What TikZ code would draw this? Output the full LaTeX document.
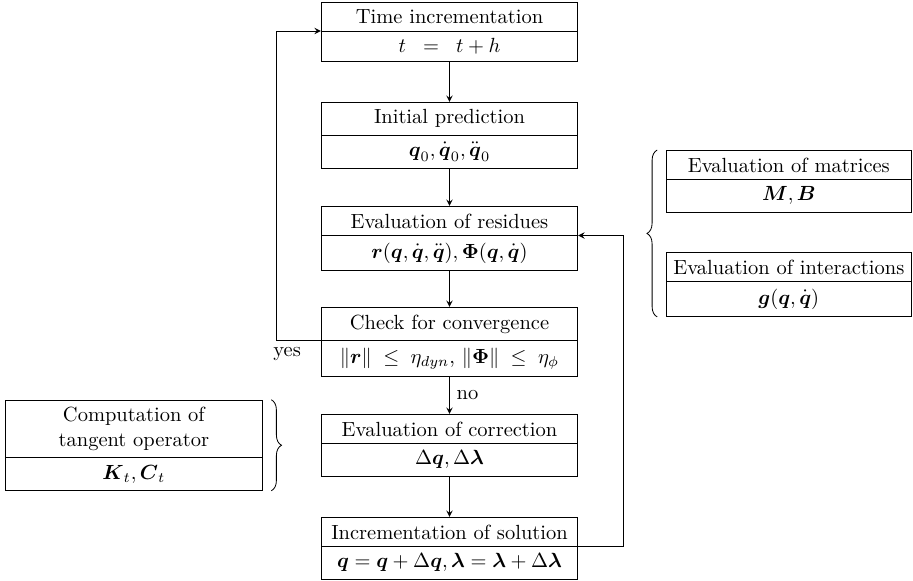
\documentclass[tikz,border=0pt]{standalone}
\usepackage{amsmath}
\usetikzlibrary{positioning,shapes.multipart,decorations.pathreplacing}
\newcommand{\bv}[1]{\boldsymbol{#1}}
\tikzset{
  blk/.style={rectangle split, rectangle split parts=2, draw, align=center, minimum width=4.4cm, anchor=north},
  sideblk/.style={blk, minimum width=4.2cm},
  brc/.style={decorate, decoration={brace, amplitude=5pt}}
}
\begin{document}
\begin{tikzpicture}
            \useasboundingbox (0,0) rectangle (15.66,-9.965);
            % Main loop
            \node[blk] (inc) at (7.71,-0.034) {Time incrementation \nodepart{two} $t\;\;=\;\;t + h$};
            \node[blk] (pred) at (7.71,-1.749) {Initial prediction \nodepart{two} $\bv{q}_0, \dot{\bv{q}}_0, \ddot{\bv{q}}_0$};
            \node[blk] (res) at (7.71,-3.533) {Evaluation of residues \nodepart{two} $\bv{r}(\bv{q}, \dot{\bv{q}}, \ddot{\bv{q}}), \bv{\Phi}(\bv{q}, \dot{\bv{q}})$};
            \node[blk] (conv) at (7.71,-5.265) {Check for convergence \nodepart{two} $\|\bv{r}\| \;\leq\; \eta_{dyn}$, $\|\bv{\Phi}\| \;\leq\; \eta_{\phi}$};
            \node[blk] (corr) at (7.71,-7.10) {Evaluation of correction \nodepart{two} $\Delta\bv{q}, \Delta\bv{\lambda}$};
            \node[blk] (sol) at (7.71,-8.867) {Incrementation of solution \nodepart{two} $\bv{q} = \bv{q} + \Delta\bv{q}, \bv{\lambda} = \bv{\lambda} + \Delta\bv{\lambda}$};
            % Side blocks
            \node[blk, anchor=east, left=1cm of corr] (tan) {Computation of\\tangent operator \nodepart{two} $\bv{K}_t, \bv{C}_t$};
            \node[sideblk] (mat) at (13.53,-2.573) {Evaluation of matrices \nodepart{two} $\bv{M}, \bv{B}$};
            \node[sideblk] (int) at (13.53,-4.322) {Evaluation of interactions \nodepart{two} $\bv{g}(\bv{q}, \dot{\bv{q}})$};
            % Edges
            \path[draw,->,>=stealth] (inc) to (pred);
            \path[draw,->,>=stealth] (pred) to (res);
            \path[draw,->,>=stealth] (res) to (conv);
            \path[draw,->,>=stealth] (conv) to node[right]{no} (corr);
            \path[draw,->,>=stealth] (corr) to (sol);
            \path[draw,->,>=stealth] (conv.text split west) -- node[below,pos=.75]{yes} ++(-0.77,0) |- (inc.text split west);
            \path[draw,->,>=stealth] (sol.text split east) -- ++(0.77,0) |- (res.text split east);
            % Braces
            \draw[brc] ([xshift=-0.15cm]int.south west) -- ([xshift=-0.15cm]mat.north west);
            \draw[brc] ([xshift=0.15cm]tan.north east) -- ([xshift=0.15cm]tan.south east);
        \end{tikzpicture}
\end{document}
